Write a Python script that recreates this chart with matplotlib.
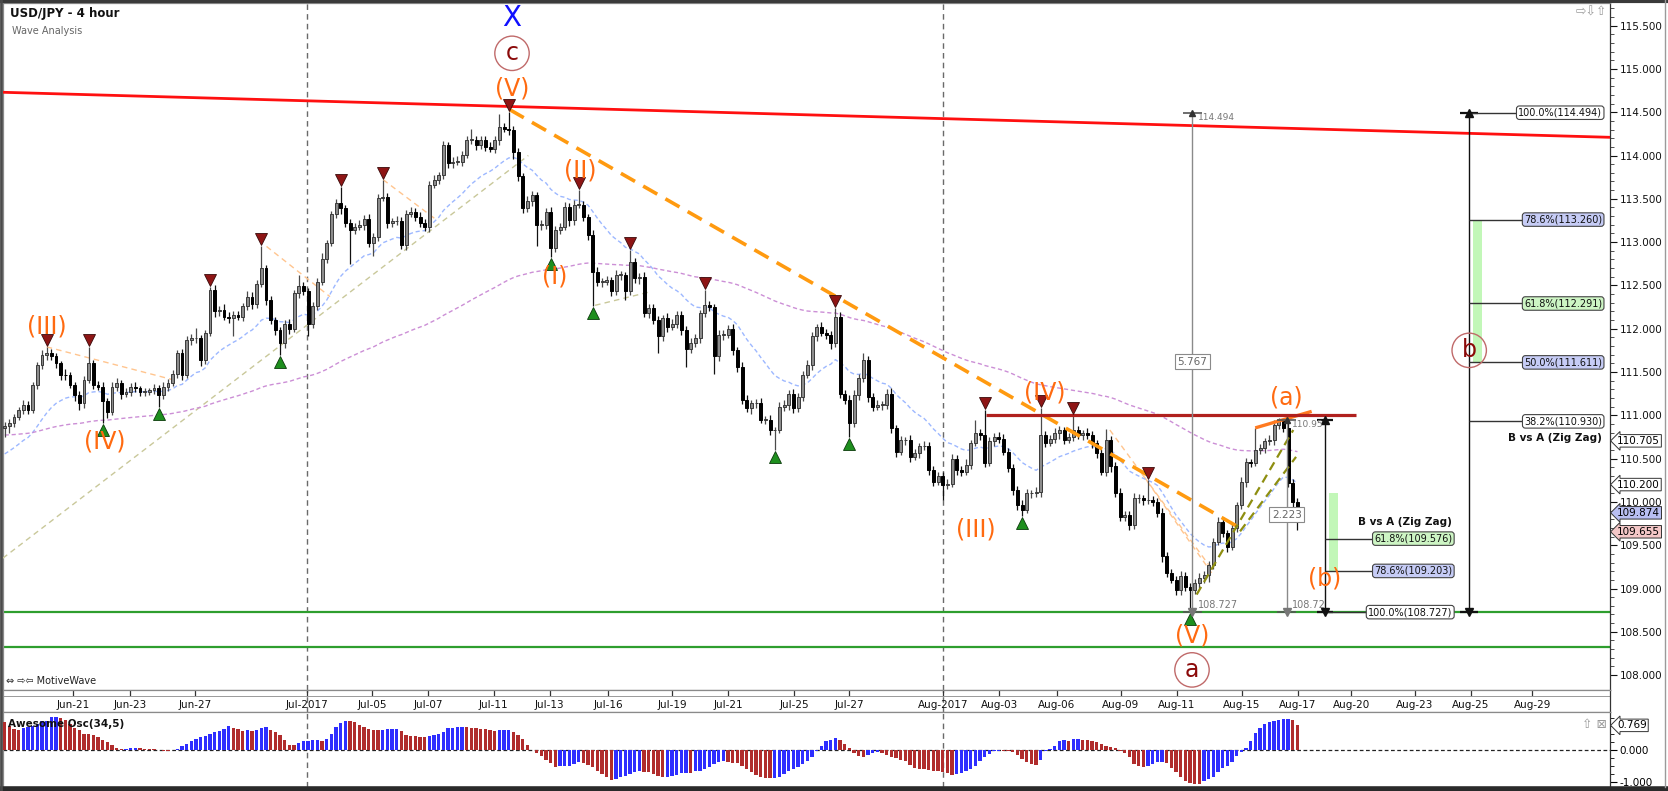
import numpy as np
import matplotlib
matplotlib.use("Agg")
import matplotlib.pyplot as plt
from matplotlib import transforms
from matplotlib.lines import Line2D

# ---------------------------------------------------------------- data
TITLE = "USD/JPY - 4 hour"
SUBTITLE = "Wave Analysis"

FIRST_OPEN = 110.85
CLOSES = [
    110.88, 110.91, 110.98, 111.06, 111.12, 111.06, 111.35, 111.58, 111.70, 111.72,
    111.68, 111.60, 111.47, 111.46, 111.35, 111.23, 111.14, 111.41, 111.60, 111.35,
    111.33, 111.16, 111.04, 111.33, 111.37, 111.25, 111.27, 111.33, 111.31, 111.27,
    111.27, 111.29, 111.31, 111.23, 111.33, 111.37, 111.48, 111.72, 111.47, 111.87,
    111.89, 111.89, 111.64, 111.95, 112.45, 112.20, 112.22, 112.14, 112.12, 112.16,
    112.14, 112.26, 112.37, 112.29, 112.52, 112.70, 112.33, 112.10, 111.99, 111.83,
    112.06, 112.00, 112.41, 112.49, 112.43, 112.06, 112.26, 112.54, 112.81, 112.99,
    113.33, 113.45, 113.39, 113.22, 113.14, 113.18, 113.20, 113.27, 112.99, 113.06,
    113.51, 113.52, 113.22, 113.24, 113.24, 112.97, 113.33, 113.35, 113.29, 113.22,
    113.18, 113.66, 113.72, 113.77, 114.12, 113.91, 113.93, 113.93, 114.01, 114.18,
    114.18, 114.12, 114.18, 114.10, 114.08, 114.18, 114.33, 114.31, 114.30, 114.04,
    113.76, 113.39, 113.47, 113.54, 113.20, 113.20, 113.35, 112.93, 113.14, 113.18,
    113.41, 113.25, 113.43, 113.43, 113.29, 113.08, 112.66, 112.54, 112.54, 112.56,
    112.43, 112.62, 112.62, 112.43, 112.77, 112.58, 112.60, 112.18, 112.24, 112.10,
    111.91, 112.12, 112.02, 112.06, 112.16, 111.99, 111.77, 111.83, 111.89, 112.18,
    112.27, 112.25, 111.68, 111.93, 111.93, 112.00, 111.75, 111.56, 111.18, 111.08,
    111.14, 111.14, 110.95, 110.95, 110.83, 110.83, 111.10, 111.12, 111.25, 111.08,
    111.21, 111.47, 111.58, 111.91, 112.02, 111.95, 111.93, 111.83, 112.14, 111.25,
    111.18, 110.91, 111.23, 111.43, 111.64, 111.21, 111.10, 111.12, 111.12, 111.25,
    110.85, 110.58, 110.71, 110.71, 110.52, 110.56, 110.64, 110.64, 110.37, 110.23,
    110.30, 110.20, 110.21, 110.50, 110.37, 110.35, 110.43, 110.68, 110.79, 110.77,
    110.45, 110.70, 110.75, 110.73, 110.58, 110.39, 110.14, 109.96, 109.91, 110.10,
    110.10, 110.12, 110.77, 110.68, 110.73, 110.79, 110.83, 110.72, 110.75, 110.83,
    110.77, 110.79, 110.77, 110.68, 110.56, 110.35, 110.72, 110.41, 110.10, 109.83,
    109.85, 109.73, 110.04, 110.04, 110.02, 110.02, 110.00, 109.87, 109.37, 109.18,
    109.10, 108.98, 109.14, 109.02, 108.98, 109.06, 109.12, 109.16, 109.27, 109.54,
    109.77, 109.64, 109.48, 109.70, 109.96, 110.23, 110.46, 110.45, 110.60, 110.62,
    110.70, 110.72, 110.89, 110.93, 110.85, 110.22, 110.00, 109.87,
]
UP_WICK_PIPS = [
    4, 5, 3, 4, 6, 5, 4, 3, 5, 7,   5, 4, 3, 6, 4, 3, 5, 4, 19, 4,
    5, 6, 4, 5, 6, 4, 5, 4, 5, 3,   4, 3, 5, 4, 6, 5, 4, 3, 4, 5,
    5, 12, 4, 3, 3, 5, 4, 6, 5, 4,  5, 4, 6, 5, 4, 25, 4, 5, 4, 3,
    4, 5, 4, 13, 5, 4, 5, 4, 6, 4,  3, 5, 19, 4, 5, 4, 5, 4, 6, 5,
    4, 20, 5, 4, 6, 5, 4, 5, 4, 6,  5, 4, 6, 4, 5, 4, 5, 6, 4, 5,
    13, 4, 5, 4, 6, 4, 15, 5, 19, 4, 5, 4, 6, 5, 4, 5, 4, 6, 5, 4,
    5, 4, 6, 17, 5, 4, 6, 5, 4, 5,  4, 6, 5, 4, 14, 5, 4, 6, 4, 5,
    5, 4, 6, 5, 4, 5, 4, 6, 5, 4,   18, 5, 4, 6, 5, 4, 5, 4, 6, 5,
    4, 5, 6, 4, 5, 4, 5, 6, 4, 5,   5, 4, 6, 5, 4, 6, 5, 4, 10, 5,
    4, 5, 6, 5, 8, 4, 5, 6, 4, 5,   6, 4, 5, 4, 6, 5, 4, 6, 5, 4,
    5, 4, 6, 5, 4, 5, 6, 4, 16, 5,  29, 5, 4, 6, 5, 4, 5, 4, 6, 5,
    4, 5, 31, 5, 4, 6, 5, 4, 5, 17, 5, 4, 6, 5, 4, 5, 12, 4, 5, 6,
    4, 5, 6, 5, 4, 23, 5, 4, 6, 5,  5, 4, 6, 5, 4, 5, 6, 4, 5, 4,
    5, 6, 4, 5, 4, 6, 5, 4, 25, 5,  4, 5, 6, 4, 2, 10, 5, 4,
]
DOWN_WICK_PIPS = [
    10, 8, 4, 3, 5, 4, 3, 5, 4, 6,  4, 5, 6, 5, 4, 6, 8, 5, 4, 5,
    4, 25, 7, 4, 5, 6, 4, 5, 4, 5,  5, 4, 4, 13, 4, 5, 3, 5, 6, 4,
    6, 5, 7, 5, 4, 6, 5, 4, 5, 20,  4, 5, 4, 6, 5, 4, 6, 5, 6, 13,
    5, 6, 4, 5, 4, 15, 5, 4, 3, 5,  4, 5, 6, 5, 39, 5, 4, 6, 5, 15,
    5, 4, 6, 5, 4, 5, 6, 4, 5, 4,   5, 6, 4, 5, 4, 6, 5, 4, 5, 4,
    5, 6, 4, 5, 4, 5, 6, 4, 6, 8,   6, 5, 4, 5, 25, 6, 5, 10, 4, 5,
    4, 6, 5, 4, 5, 6, 40, 5, 6, 4,  5, 4, 6, 10, 4, 5, 6, 5, 6, 5,
    19, 5, 6, 4, 5, 6, 21, 5, 4, 5, 5, 4, 20, 5, 6, 4, 5, 6, 5, 4,
    6, 5, 4, 5, 6, 23, 4, 5, 6, 5,  4, 5, 4, 6, 5, 4, 5, 6, 4, 5,
    5, 16, 4, 5, 4, 6, 5, 4, 6, 5,  5, 6, 4, 5, 6, 4, 5, 4, 6, 5,
    4, 18, 5, 4, 6, 5, 4, 5, 4, 6,  5, 4, 6, 5, 4, 5, 6, 5, 7, 4,
    5, 4, 6, 5, 4, 5, 6, 5, 4, 5,   4, 5, 4, 6, 5, 4, 5, 6, 4, 5,
    5, 6, 4, 5, 6, 4, 5, 4, 6, 5,   4, 5, 6, 5, 25, 4, 5, 6, 8, 5,
    4, 5, 6, 4, 5, 4, 6, 5, 4, 5,   5, 4, 6, 5, 4, 5, 6, 19,
]
AO_VALUES = [
    0.86, 0.76, 0.66, 0.63, 0.69, 0.73, 0.76, 0.81, 0.90, 0.92,
    1.02, 1.04, 1.00, 0.95, 0.81, 0.69, 0.63, 0.50, 0.49, 0.48,
    0.40, 0.31, 0.24, 0.16, 0.06, 0.02, 0.03, 0.05, 0.06, 0.05,
    0.04, 0.03, 0.02, 0.01, -0.02, -0.03, 0.00, 0.03, 0.11, 0.19,
    0.27, 0.35, 0.40, 0.43, 0.50, 0.56, 0.60, 0.65, 0.74, 0.69,
    0.66, 0.60, 0.62, 0.60, 0.64, 0.69, 0.72, 0.62, 0.55, 0.47,
    0.31, 0.17, 0.16, 0.21, 0.27, 0.28, 0.30, 0.31, 0.29, 0.35,
    0.51, 0.72, 0.85, 0.91, 0.90, 0.88, 0.79, 0.71, 0.65, 0.63,
    0.62, 0.64, 0.65, 0.66, 0.67, 0.59, 0.46, 0.45, 0.43, 0.42,
    0.40, 0.43, 0.46, 0.50, 0.56, 0.68, 0.70, 0.71, 0.72, 0.71,
    0.69, 0.68, 0.67, 0.66, 0.62, 0.60, 0.61, 0.62, 0.63, 0.56,
    0.48, 0.34, 0.17, 0.00, -0.10, -0.18, -0.31, -0.42, -0.52, -0.51,
    -0.50, -0.49, -0.44, -0.39, -0.42, -0.46, -0.54, -0.67, -0.75, -0.85,
    -0.94, -0.91, -0.85, -0.80, -0.75, -0.70, -0.67, -0.68, -0.70, -0.74,
    -0.80, -0.85, -0.83, -0.80, -0.77, -0.73, -0.71, -0.72, -0.67, -0.65,
    -0.59, -0.52, -0.44, -0.39, -0.35, -0.39, -0.40, -0.42, -0.49, -0.59,
    -0.70, -0.78, -0.83, -0.88, -0.89, -0.88, -0.85, -0.75, -0.67, -0.59,
    -0.52, -0.44, -0.33, -0.21, -0.02, 0.14, 0.27, 0.31, 0.38, 0.31,
    0.19, 0.05, -0.10, -0.18, -0.23, -0.15, -0.08, -0.07, -0.10, -0.15,
    -0.21, -0.26, -0.31, -0.35, -0.46, -0.56, -0.59, -0.60, -0.63, -0.65,
    -0.66, -0.70, -0.73, -0.77, -0.75, -0.71, -0.65, -0.59, -0.49, -0.33,
    -0.21, -0.13, -0.04, -0.02, -0.03, -0.04, -0.07, -0.15, -0.28, -0.39,
    -0.44, -0.46, -0.31, -0.04, 0.03, 0.14, 0.27, 0.30, 0.29, 0.33,
    0.34, 0.31, 0.30, 0.29, 0.24, 0.19, 0.11, 0.08, 0.05, -0.02,
    -0.10, -0.21, -0.44, -0.49, -0.52, -0.49, -0.44, -0.39, -0.38, -0.42,
    -0.56, -0.70, -0.85, -0.96, -1.04, -1.06, -1.07, -0.96, -0.91, -0.83,
    -0.70, -0.56, -0.49, -0.39, -0.18, -0.07, 0.05, 0.29, 0.52, 0.68,
    0.81, 0.86, 0.90, 0.94, 0.96, 0.97, 0.94, 0.77,
]
AO_LAST_LABEL = "0.769"

SWING_HIGH_IDX = [9, 18, 44, 55, 72, 81, 108, 123, 134, 150, 178, 210, 222, 229, 245]
SWING_LOW_IDX = [21, 33, 59, 117, 126, 165, 181, 218, 254]

BLUE_MA_SEED, BLUE_MA_SPAN = 110.52, 20
PINK_MA_SEED, PINK_MA_SPAN = 110.77, 120

DATE_LABELS = ["Jun-21", "Jun-23", "Jun-27", "Jul-2017", "Jul-05", "Jul-07", "Jul-11",
               "Jul-13", "Jul-16", "Jul-19", "Jul-21", "Jul-25", "Jul-27", "Aug-2017",
               "Aug-03", "Aug-06", "Aug-09", "Aug-11", "Aug-15", "Aug-17", "Aug-20",
               "Aug-23", "Aug-25", "Aug-29"]
DATE_TICK_IDX = [14.7, 26.8, 40.8, 64.8, 78.7, 90.8, 104.8, 116.8, 129.3, 143.0, 155.0,
                 169.1, 180.9, 201.1, 213.1, 225.4, 239.2, 251.1, 265.1, 277.1, 288.5,
                 302.2, 314.2, 327.3]
MONTH_START_IDX = [64.8, 201.1]

PRICE_TICKS = [108.0, 108.5, 109.0, 109.5, 110.0, 110.5, 111.0, 111.5, 112.0, 112.5,
               113.0, 113.5, 114.0, 114.5, 115.0, 115.5]

# lines given as (index, price) end points
RED_TREND = [(-0.4, 114.73), (344.0, 114.21)]
ORANGE_TREND = [(108.2, 114.53), (264.0, 109.72)]
ORANGE_A_LINE = [(268.3, 110.86), (279.7, 111.04)]
RESISTANCE = (210.3, 289.5, 111.0)
SUPPORTS = [108.727, 108.32]
TAN_LINES = [[(-0.4, 109.35), (112.2, 114.0)], [(126.5, 112.27), (138.6, 112.43)]]
LIGHT_ORANGE_LINES = [[(9.0, 111.79), (36.1, 111.41)], [(56.1, 112.95), (69.7, 112.37)],
                      [(81.1, 113.72), (92.2, 113.27)], [(236.8, 110.83), (258.3, 109.25)],
                      [(243.6, 110.33), (258.6, 109.18)]]
OLIVE_LINES = [[(255.4, 108.93), (276.1, 110.83)], [(264.7, 109.66), (276.7, 110.52)]]

# wave labels: text, index, price, kind
WAVE_LABELS = [
    ("X", 108.7, 115.59, "x"), ("c", 108.7, 115.18, "circ"), ("(V)", 108.7, 114.77, "o"),
    ("(III)", 9.0, 112.02, "o"), ("(IV)", 21.5, 110.70, "o"), ("(I)", 117.9, 112.60, "o"),
    ("(II)", 123.3, 113.83, "o"), ("(III)", 208.1, 109.68, "o"), ("(IV)", 222.9, 111.26, "o"),
    ("(V)", 254.4, 108.46, "o"), ("a", 254.4, 108.06, "circ"), ("(a)", 274.7, 111.20, "o"),
    ("(b)", 282.9, 109.12, "o"), ("b", 313.8, 111.75, "circ"),
]

# fibonacci tools
BIG_FIB_X, BIG_FIB_LOW, BIG_FIB_HIGH = 313.8, 108.727, 114.494
BIG_FIB_LEVELS = [("100.0%(114.494)", 114.494, "w"), ("78.6%(113.260)", 113.260, "b"),
                  ("61.8%(112.291)", 112.291, "g"), ("50.0%(111.611)", 111.611, "b"),
                  ("38.2%(110.930)", 110.930, "w")]
BIG_FIB_ZONE = (111.611, 113.260)
SMALL_FIB_X, SMALL_FIB_LOW, SMALL_FIB_HIGH = 282.9, 108.727, 110.95
SMALL_FIB_LEVELS = [("61.8%(109.576)", 109.576, "g"), ("78.6%(109.203)", 109.203, "b"),
                    ("100.0%(108.727)", 108.727, "w")]
SMALL_FIB_ZONE = (109.203, 110.10)
ZIGZAG_LABEL = "B vs A (Zig Zag)"

# measuring lines: x, low, high, box text, box price, top text, bottom text
MEASURES = [(254.5, 108.727, 114.494, "5.767", 111.62, "114.494", "108.727"),
            (274.7, 108.727, 110.95, "2.223", 109.85, "110.95", "108.72")]

AXIS_PRICE_TAGS = [("110.705", 110.705, "#FFFFFF"), ("110.200", 110.200, "#FFFFFF"),
                   ("109.874", 109.874, "#B9BFF2"), ("109.655", 109.655, "#F4C7C7")]

# ---------------------------------------------------------------- layout helpers
W, H = 1668, 791
fig = plt.figure(figsize=(W / 100, H / 100), dpi=100)
fig.patch.set_facecolor("white")
plt.rcParams["font.family"] = ["DejaVu Sans"]


def axes_px(x0, y0, x1, y1):
    return fig.add_axes([x0 / W, 1 - y1 / H, (x1 - x0) / W, (y1 - y0) / H])


BAR_PX, BAR0_PX = 4.667, 4.7
P_REF, P_REF_PX, PX_PER_UNIT = 115.5, 25.6, 86.6


def px_to_i(px):
    return (px - BAR0_PX) / BAR_PX


def py_to_p(py):
    return P_REF - (py - P_REF_PX) / PX_PER_UNIT


PLOT_L, PLOT_R = 3, 1610
MAIN_T, MAIN_B = 3, 690
OSC_T, OSC_B, OSC_ZERO_PX, OSC_PX_PER_UNIT = 712, 787, 750, 32.0

ax = axes_px(PLOT_L, MAIN_T, PLOT_R, MAIN_B)
axd = axes_px(PLOT_L, MAIN_B, PLOT_R, OSC_T)
ax2 = axes_px(PLOT_L, OSC_T, PLOT_R, OSC_B)
XLIM = (px_to_i(PLOT_L), px_to_i(PLOT_R))
for a in (ax, axd, ax2):
    a.set_xlim(*XLIM)
    a.set_facecolor("white")
    a.set_xticks([])
ax.set_ylim(py_to_p(MAIN_B), py_to_p(MAIN_T))
ax2.set_ylim(-(OSC_B - OSC_ZERO_PX) / OSC_PX_PER_UNIT, (OSC_ZERO_PX - OSC_T) / OSC_PX_PER_UNIT)
axd.set_ylim(0, 1)
axd.set_yticks([])

for a in (ax, ax2, axd):
    for s in a.spines.values():
        s.set_color("#8a8a8a")
        s.set_linewidth(0.9)
    a.spines["right"].set_color("#333333")

# ---------------------------------------------------------------- candles
closes = np.array(CLOSES)
n = len(closes)
idx = np.arange(n)
opens = np.concatenate([[FIRST_OPEN], closes[:-1]])
highs = np.maximum(opens, closes) + np.array(UP_WICK_PIPS) / 100.0
lows = np.minimum(opens, closes) - np.array(DOWN_WICK_PIPS) / 100.0
up = closes >= opens
body_bot = np.minimum(opens, closes)
body_h = np.maximum(np.abs(closes - opens), 0.006)

ax.vlines(idx[up], lows[up], highs[up], color="#4a4a4a", lw=0.9, zorder=5)
ax.vlines(idx[~up], lows[~up], highs[~up], color="#111111", lw=0.9, zorder=5)
ax.bar(idx[up], body_h[up], bottom=body_bot[up], width=0.62, facecolor="#8C8C8C",
       edgecolor="#3a3a3a", linewidth=0.7, zorder=6)
ax.bar(idx[~up], body_h[~up], bottom=body_bot[~up], width=0.62, facecolor="#000000",
       edgecolor="#000000", linewidth=0.7, zorder=6)


# ---------------------------------------------------------------- moving averages
def ema(values, seed, span):
    a = 2.0 / (span + 1.0)
    out = np.empty(len(values))
    prev = seed
    for k, v in enumerate(values):
        prev = prev + a * (v - prev)
        out[k] = prev
    return out


ax.plot(idx, ema(closes, BLUE_MA_SEED, BLUE_MA_SPAN), color="#9DB8FF", lw=1.0,
        dashes=(3, 2), zorder=4)
ax.plot(idx, ema(closes, PINK_MA_SEED, PINK_MA_SPAN), color="#CC8FD6", lw=1.0,
        dashes=(3, 2), zorder=4)


# ---------------------------------------------------------------- trend lines
def seg(points, **kw):
    xs, ys = zip(*points)
    ax.plot(xs, ys, **kw)


for pts in TAN_LINES:
    seg(pts, color="#C9C89A", lw=1.0, dashes=(4, 3), zorder=3)
for pts in LIGHT_ORANGE_LINES:
    seg(pts, color="#FFC58F", lw=1.0, dashes=(4, 3), zorder=3)
for pts in OLIVE_LINES:
    seg(pts, color="#8E8E10", lw=1.6, dashes=(4, 2.5), zorder=7)
seg(RED_TREND, color="#FF1010", lw=2.0, zorder=8, solid_capstyle="butt")
seg(ORANGE_TREND, color="#FF9A10", lw=2.6, dashes=(4.5, 2.6), zorder=8)
seg(ORANGE_A_LINE, color="#FF7A20", lw=2.4, zorder=8)
ax.hlines(RESISTANCE[2], RESISTANCE[0], RESISTANCE[1], color="#B0201E", lw=2.3, zorder=8)
for lvl in SUPPORTS:
    ax.axhline(lvl, color="#2E9E2E", lw=1.6, zorder=2)

# month separators
for m in MONTH_START_IDX:
    for a in (ax, axd, ax2):
        a.axvline(m, color="#6a6a6a", lw=1.0, dashes=(4, 3), zorder=1)

# ---------------------------------------------------------------- swing markers
up_off = transforms.offset_copy(ax.transData, fig=fig, x=0, y=5, units="points")
dn_off = transforms.offset_copy(ax.transData, fig=fig, x=0, y=-5, units="points")
ax.plot(SWING_HIGH_IDX, highs[SWING_HIGH_IDX], "v", ms=8, mfc="#8E1515", mec="#3a0a0a",
        mew=0.6, transform=up_off, zorder=9, clip_on=False)
ax.plot(SWING_LOW_IDX, lows[SWING_LOW_IDX], "^", ms=8, mfc="#1E8F1E", mec="#0a3a0a",
        mew=0.6, transform=dn_off, zorder=9, clip_on=False)

# ---------------------------------------------------------------- wave labels
for txt, xi, pr, kind in WAVE_LABELS:
    if kind == "x":
        ax.text(xi, pr, txt, color="#1010FF", fontsize=20, ha="center", va="center", zorder=12)
    elif kind == "o":
        ax.text(xi, pr, txt, color="#FF6A10", fontsize=17, ha="center", va="center", zorder=12)
    else:
        ax.text(xi, pr, txt, color="#8B0A0A", fontsize=17, ha="center", va="center", zorder=12,
                bbox=dict(boxstyle="circle,pad=0.22", facecolor="none", edgecolor="#C06A6A", lw=1.0))

# ---------------------------------------------------------------- fib tools
BOX_COL = {"w": "#FFFFFF", "b": "#C6CCF6", "g": "#CDF5C4"}


def fib_tool(x, lo, hi, levels, zone, label_right, cap_half):
    ax.vlines(x, lo, hi, color="#111111", lw=1.0, zorder=9)
    ax.hlines([lo, hi], x - cap_half, x + cap_half, color="#111111", lw=1.6, zorder=9)
    ax.plot([x], [hi], "^", color="#111111", ms=6, zorder=10)
    ax.plot([x], [lo], "v", color="#111111", ms=6, zorder=10)
    for txt, lvl, col in levels:
        ax.hlines(lvl, x, label_right - 8, color="#333333", lw=1.0, zorder=9)
        ax.text(label_right, lvl, txt, ha="right", va="center", fontsize=7, color="#111111",
                zorder=11, bbox=dict(boxstyle="round,pad=0.18,rounding_size=0.3",
                                     facecolor=BOX_COL[col], edgecolor="#444444", lw=0.8))
    ax.add_patch(plt.Rectangle((x + 0.8, zone[0]), 1.9, zone[1] - zone[0],
                               facecolor="#C2F7B8", edgecolor="none", zorder=8))


fib_tool(BIG_FIB_X, BIG_FIB_LOW, BIG_FIB_HIGH, BIG_FIB_LEVELS, BIG_FIB_ZONE, 342.3, 1.9)
fib_tool(SMALL_FIB_X, SMALL_FIB_LOW, SMALL_FIB_HIGH, SMALL_FIB_LEVELS, SMALL_FIB_ZONE, 310.2, 1.7)
ax.text(342.3, 110.74, ZIGZAG_LABEL, ha="right", va="center", fontsize=7.5,
        fontweight="bold", color="#111111", zorder=11)
ax.text(310.1, 109.77, ZIGZAG_LABEL, ha="right", va="center", fontsize=7.5,
        fontweight="bold", color="#111111", zorder=11)

# measuring lines
for x, lo, hi, box, boxp, ttop, tbot in MEASURES:
    ax.vlines(x, lo, hi, color="#8a8a8a", lw=1.0, zorder=9)
    ax.hlines([lo, hi], x - 2.0, x + 2.0, color="#555555", lw=1.2, zorder=9)
    ax.plot([x], [lo], "v", color="#777777", ms=6, zorder=10)
    ax.plot([x], [hi], "^", color="#333333", ms=5, zorder=10)
    ax.text(x + 1.2, hi - 0.06, ttop, fontsize=6.5, color="#777777", ha="left", va="center", zorder=11)
    ax.text(x + 1.2, lo + 0.08, tbot, fontsize=7, color="#777777", ha="left", va="center", zorder=11)
    ax.text(x, boxp, box, fontsize=7.5, color="#666666", ha="center", va="center", zorder=11,
            bbox=dict(boxstyle="square,pad=0.25", facecolor="white", edgecolor="#8a8a8a", lw=0.8))

# ---------------------------------------------------------------- main y axis
ax.yaxis.tick_right()
ax.set_yticks(PRICE_TICKS)
ax.set_yticklabels([f"{v:.3f}" for v in PRICE_TICKS])
ax.set_yticks(np.arange(108.0, 115.75, 0.1), minor=True)
ax.tick_params(axis="y", which="major", length=5, width=0.8, labelsize=7.5, pad=2,
               colors="#111111")
ax.tick_params(axis="y", which="minor", length=3, width=0.6, colors="#333333")
ax.tick_params(axis="x", length=0)

ytag = transforms.blended_transform_factory(ax.transAxes, ax.transData)
for txt, pr, col in AXIS_PRICE_TAGS:
    ax.text(1.0045, pr, txt, transform=ytag, fontsize=7.5, ha="left", va="center", zorder=20,
            clip_on=False, bbox=dict(boxstyle="larrow,pad=0.12", facecolor=col,
                                      edgecolor="#333333", lw=0.7))

# ---------------------------------------------------------------- date axis
axd.vlines(DATE_TICK_IDX, 0.72, 1.0, color="#333333", lw=0.9)
axd.axhline(0.72, color="#9a9a9a", lw=0.7)
for pos, lab in zip(DATE_TICK_IDX, DATE_LABELS):
    axd.text(pos, 0.33, lab, ha="center", va="center", fontsize=7.5, color="#111111")

# ---------------------------------------------------------------- awesome oscillator
ao = np.array(AO_VALUES)
prev = np.concatenate([[ao[0]], ao[:-1]])
ao_col = np.where(ao > prev, "#2E2EFF", "#B02C2C")
ax2.bar(np.arange(len(ao)), ao, width=0.72, color=ao_col, edgecolor="none", zorder=3)
ax2.axhline(0, color="#222222", lw=0.9, dashes=(3, 2), zorder=2)
ax2.yaxis.tick_right()
ax2.set_yticks([0.0, -1.0])
ax2.set_yticklabels(["0.000", "-1.000"])
ax2.set_yticks(np.arange(-1.0, 1.01, 0.25), minor=True)
ax2.tick_params(axis="y", which="major", length=5, width=0.8, labelsize=7.5, pad=2)
ax2.tick_params(axis="y", which="minor", length=3, width=0.6)
ax2.tick_params(axis="x", length=0)
otag = transforms.blended_transform_factory(ax2.transAxes, ax2.transData)
ax2.text(1.0045, ao[-1], AO_LAST_LABEL, transform=otag, fontsize=7.5, ha="left", va="center",
         clip_on=False, zorder=20,
         bbox=dict(boxstyle="larrow,pad=0.12", facecolor="white", edgecolor="#333333", lw=0.7))
ax2.text(0.003, 0.84, "Awesome Osc(34,5)", transform=ax2.transAxes, fontsize=7.5,
         fontweight="bold", color="#111111", ha="left", va="center", zorder=10)
ax2.text(0.998, 0.84, "\u21e7 \u22a0", transform=ax2.transAxes, fontsize=9,
         color="#9a9a9a", ha="right", va="center", zorder=10)

# ---------------------------------------------------------------- titles & decorations
fig.text(10 / W, 1 - 14 / H, TITLE, fontsize=8.5, fontweight="bold", color="#111111",
         ha="left", va="center")
fig.text(12 / W, 1 - 31 / H, SUBTITLE, fontsize=7, color="#666666", ha="left", va="center")
fig.text(1607 / W, 1 - 12 / H, "\u21e8\u21e9\u21e7", fontsize=9, color="#9a9a9a",
         ha="right", va="center")
fig.text(6 / W, 1 - 681 / H, "\u21d4 \u21e8\u21e6 MotiveWave", fontsize=7, color="#222222",
         ha="left", va="center")

# outer frame
for (x0, y0, x1, y1, c, lw) in [(0, 1, W, 1, "#3a3a3a", 3), (0, 789, W, 789, "#2a2a2a", 4),
                                (1, 0, 1, H, "#4a4a4a", 2), (1665, 0, 1665, 787, "#9a9a9a", 1)]:
    fig.add_artist(Line2D([x0 / W, x1 / W], [1 - y0 / H, 1 - y1 / H], color=c, lw=lw,
                          transform=fig.transFigure))

fig.savefig("out.png", dpi=100, facecolor="white")
